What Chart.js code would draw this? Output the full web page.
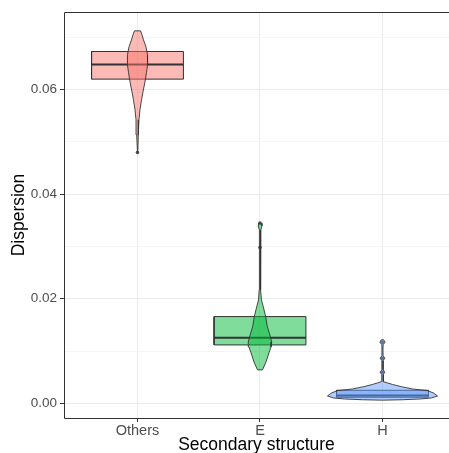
<!DOCTYPE html>
<html>
<head>
<meta charset="utf-8">
<script src="https://cdn.jsdelivr.net/npm/chart.js@4.4.1/dist/chart.umd.min.js"></script>
<style>
  html, body { margin: 0; padding: 0; background: #fff; overflow: hidden; }
  #wrap { width: 449px; height: 453px; }
</style>
</head>
<body>
<div id="wrap"><canvas id="chart" width="449" height="453"></canvas></div>
<script>
// Categories and box statistics
const categories = ['Others', 'E', 'H'];
const boxQ1 = [0.06197, 0.01117, 0.00117];
const boxMedian = [0.06476, 0.01256, 0.00148];
const boxQ3 = [0.06725, 0.01658, 0.00250];

// Outlier points
const othersOutliers = [0.04794];
const eOutliers = [0.03444, 0.02980];
const hOutliers = [0.01168, 0.00862, 0.00595];

// Violin outlines: y values (top to bottom) and half widths in category units
const othersViolinY = [0.07120, 0.07044, 0.06948, 0.06815, 0.06662, 0.06470, 0.06318, 0.06145, 0.05954, 0.05801, 0.05610, 0.05419, 0.05132, 0.04845, 0.04794];
const othersViolinW = [0.0245, 0.037, 0.049, 0.069, 0.082, 0.082, 0.073, 0.061, 0.045, 0.033, 0.020, 0.012, 0.0065, 0.0033, 0];

const eViolinY = [0.03444, 0.03392, 0.03315, 0.02933, 0.02551, 0.02168, 0.01977, 0.01843, 0.01652, 0.01461, 0.01346, 0.01174, 0.01078, 0.00964, 0.00792, 0.00639];
const eViolinW = [0.012, 0.016, 0.0065, 0.004, 0.004, 0.0065, 0.012, 0.027, 0.047, 0.060, 0.076, 0.0955, 0.090, 0.073, 0.049, 0.020];

const hViolinY = [0.01215, 0.01168, 0.01120, 0.01021, 0.00910, 0.00862, 0.00815, 0.00643, 0.00595, 0.00548, 0.00447, 0.00415, 0.00390, 0.00361, 0.00319, 0.00275, 0.00243, 0.00199, 0.00141, 0.00103, 0.00084, 0.00069, 0.00061];
const hViolinW = [0.010, 0.021, 0.005, 0.004, 0.005, 0.019, 0.005, 0.005, 0.019, 0.005, 0.0065, 0.008, 0.041, 0.082, 0.153, 0.245, 0.367, 0.416, 0.449, 0.400, 0.310, 0.163, 0];

// Axis ticks
const yTickValues = [0, 0.02, 0.04, 0.06];
const yTickLabels = ['0.00', '0.02', '0.04', '0.06'];
const yMinorValues = [0.01, 0.03, 0.05, 0.07];

const fillColors = ['rgba(248,118,109,0.5)', 'rgba(0,186,56,0.5)', 'rgba(97,156,255,0.5)'];

function violinPoints(center, ys, ws) {
    const right = ys.map((y, i) => ({ x: center + ws[i], y: y }));
    const left = ys.map((y, i) => ({ x: center - ws[i], y: y })).reverse();
    return right.concat(left, [right[0]]);
}

function boxPoints(center, q1, q3) {
    const hw = 0.375;
    return [
        { x: center - hw, y: q1 }, { x: center + hw, y: q1 },
        { x: center + hw, y: q3 }, { x: center - hw, y: q3 },
        { x: center - hw, y: q1 }
    ];
}

const violins = [
    [othersViolinY, othersViolinW],
    [eViolinY, eViolinW],
    [hViolinY, hViolinW]
];
const outliers = [othersOutliers, eOutliers, hOutliers];

const datasets = [];
categories.forEach((cat, i) => {
    const c = i + 1;
    datasets.push({
        type: 'scatter', label: cat + ' outliers', order: 4,
        data: outliers[i].map(v => ({ x: c, y: v })),
        pointRadius: 1.8, pointBorderWidth: 0,
        pointBackgroundColor: 'rgba(51,51,51,0.85)'
    });
    datasets.push({
        type: 'line', label: cat + ' box', order: 3,
        data: boxPoints(c, boxQ1[i], boxQ3[i]),
        borderColor: '#333333', borderWidth: 1,
        backgroundColor: fillColors[i], fill: 'shape',
        pointRadius: 0, tension: 0
    });
    datasets.push({
        type: 'line', label: cat + ' median', order: 2,
        data: [{ x: c - 0.375, y: boxMedian[i] }, { x: c + 0.375, y: boxMedian[i] }],
        borderColor: '#333333', borderWidth: 2, fill: false,
        pointRadius: 0
    });
    datasets.push({
        type: 'line', label: cat + ' violin', order: 1,
        data: violinPoints(c, violins[i][0], violins[i][1]),
        borderColor: '#333333', borderWidth: 0.9,
        backgroundColor: fillColors[i], fill: 'shape',
        pointRadius: 0, tension: 0
    });
});

const isMajor = v => yTickValues.some(t => Math.abs(t - v) < 1e-9);

// panel border: top, left, bottom (the right edge falls outside the picture)
const panelBorder = {
    id: 'panelBorder',
    afterDraw(chart) {
        const { ctx, chartArea } = chart;
        ctx.save();
        ctx.strokeStyle = '#333333';
        ctx.lineWidth = 1;
        const l = Math.round(chartArea.left) + 0.5;
        const t = Math.round(chartArea.top) + 0.5;
        const b = Math.round(chartArea.bottom) + 0.5;
        const r = chart.width + 2;
        ctx.beginPath();
        ctx.moveTo(r, t);
        ctx.lineTo(l, t);
        ctx.lineTo(l, b);
        ctx.lineTo(r, b);
        ctx.stroke();
        ctx.restore();
    }
};

new Chart(document.getElementById('chart'), {
    type: 'line',
    data: { datasets: datasets },
    options: {
        responsive: false,
        animation: false,
        layout: { autoPadding: false, padding: { top: 12, right: 0, left: 0, bottom: 0 } },
        plugins: { legend: { display: false }, tooltip: { enabled: false } },
        scales: {
            x: {
                type: 'linear', min: 0.4, max: 3.543,
                afterBuildTicks: s => { s.ticks = categories.map((c, i) => ({ value: i + 1 })); },
                afterFit: s => { s.height = 35; },
                grid: { color: '#EBEBEB', lineWidth: 1, tickLength: 4, tickColor: '#333333' },
                border: { display: false },
                ticks: {
                    autoSkip: false, maxRotation: 0, padding: 0,
                    color: '#4D4D4D', font: { family: 'Liberation Sans, Arial', size: 14.5 },
                    callback: v => categories[Math.round(v) - 1] || ''
                },
                title: {
                    display: true, text: 'Secondary structure', color: '#000000',
                    font: { family: 'Liberation Sans, Arial', size: 17.5, lineHeight: 1 },
                    padding: { top: 0, bottom: -1 }
                }
            },
            y: {
                type: 'linear', min: -0.0028, max: 0.0748,
                afterBuildTicks: s => {
                    s.ticks = yTickValues.concat(yMinorValues).sort((a, b) => a - b).map(v => ({ value: v }));
                },
                afterFit: s => { s.width = 64; },
                grid: {
                    color: ctx => isMajor(ctx.tick.value) ? '#EBEBEB' : '#F5F5F5',
                    tickColor: ctx => isMajor(ctx.tick.value) ? '#333333' : 'rgba(0,0,0,0)',
                    lineWidth: 1, tickLength: 4
                },
                border: { display: false },
                ticks: {
                    autoSkip: false, padding: 3,
                    color: '#4D4D4D', font: { family: 'Liberation Sans, Arial', size: 13.5 },
                    callback: v => {
                        const i = yTickValues.findIndex(t => Math.abs(t - v) < 1e-9);
                        return i >= 0 ? yTickLabels[i] : '';
                    }
                },
                title: {
                    display: true, text: 'Dispersion', color: '#000000',
                    font: { family: 'Liberation Sans, Arial', size: 17.5, lineHeight: 1 },
                    padding: { top: 10, bottom: 0 }
                }
            }
        }
    },
    plugins: [panelBorder]
});
</script>
</body>
</html>
